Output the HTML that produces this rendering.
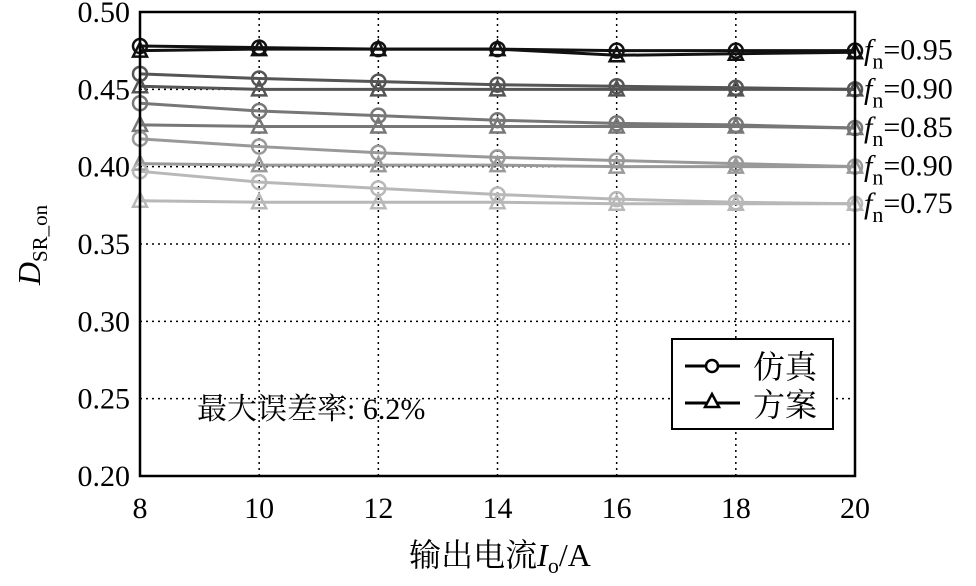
<!DOCTYPE html>
<html><head><meta charset="utf-8"><style>
html,body{margin:0;padding:0;background:#fff;}
svg text{font-family:"Liberation Serif","Noto Serif CJK SC",serif;}
</style></head><body>
<svg id="chart" width="976" height="581" viewBox="0 0 976 581" xmlns="http://www.w3.org/2000/svg"></svg>
<script>
const xCategories=[8,10,12,14,16,18,20];
const yTicks=[0.20,0.25,0.30,0.35,0.40,0.45,0.50];
const seriesLabels=["fn=0.95","fn=0.90","fn=0.85","fn=0.90","fn=0.75"];
const labelTexts=["=0.95","=0.90","=0.85","=0.90","=0.75"];
const seriesColors=["#111111","#555555","#777777","#999999","#b8b8b8"];
const simValues=[
[0.478,0.477,0.476,0.476,0.475,0.475,0.475],
[0.460,0.457,0.455,0.453,0.452,0.451,0.450],
[0.441,0.436,0.433,0.430,0.428,0.427,0.425],
[0.418,0.413,0.409,0.406,0.404,0.402,0.400],
[0.397,0.390,0.386,0.382,0.379,0.377,0.376]];
const planValues=[
[0.475,0.476,0.476,0.476,0.472,0.473,0.474],
[0.452,0.450,0.450,0.450,0.450,0.450,0.450],
[0.427,0.426,0.426,0.426,0.426,0.426,0.425],
[0.402,0.401,0.401,0.401,0.400,0.400,0.400],
[0.378,0.377,0.377,0.377,0.376,0.376,0.376]];
const L=140,R=855,T=12,B=476;
const xS=v=>L+(v-8)/(20-8)*(R-L);
const yS=v=>B-(v-0.20)/(0.50-0.20)*(B-T);
const svg=document.getElementById('chart');
const NS='http://www.w3.org/2000/svg';
function mk(tag,attrs,parent){const e=document.createElementNS(NS,tag);for(const k in attrs)e.setAttribute(k,attrs[k]);(parent||svg).appendChild(e);return e;}
xCategories.forEach((c,i)=>{if(i>0&&i<xCategories.length-1){const g=mk('line',{x1:xS(c),x2:xS(c),y1:T,y2:B,stroke:'#000','stroke-width':1.5,'stroke-dasharray':'2,4'});

}
const t=mk('text',{x:xS(c),y:B+42,'text-anchor':'middle','font-size':30});t.textContent=c;

});
yTicks.forEach((v,i)=>{if(i>0&&i<yTicks.length-1){const g=mk('line',{x1:L,x2:R,y1:yS(v),y2:yS(v),stroke:'#000','stroke-width':1.5,'stroke-dasharray':'2,4'});

}
const t=mk('text',{x:L-10,y:yS(v)+10,'text-anchor':'end','font-size':30});t.textContent=v.toFixed(2);

});
function tri(x,y,c,g){return mk('polygon',{points:`${x},${y-8} ${x-7},${y+6} ${x+7},${y+6}`,fill:'none',stroke:c,'stroke-width':2.5},g);}
simValues.forEach((arr,s)=>{
const c=seriesColors[s];
const g1=mk('g',{});


mk('polyline',{points:arr.map((v,i)=>xS(xCategories[i])+','+yS(v)).join(' '),fill:'none',stroke:c,'stroke-width':3},g1);
arr.forEach((v,i)=>{const m=mk('circle',{cx:xS(xCategories[i]),cy:yS(v),r:7,fill:'none',stroke:c,'stroke-width':2.5},g1);

});
const g2=mk('g',{});


const pv=planValues[s];
mk('polyline',{points:pv.map((v,i)=>xS(xCategories[i])+','+yS(v)).join(' '),fill:'none',stroke:c,'stroke-width':3},g2);
pv.forEach((v,i)=>{const m=tri(xS(xCategories[i]),yS(v),c,g2);

});
const ly=yS(simValues[s][6])+9;
const t=mk('text',{x:864,y:ly,'font-size':30});


const f=mk('tspan',{'font-style':'italic'},t);f.textContent='f';
const n=mk('tspan',{'font-size':22,dy:9},t);n.textContent='n';
const r=mk('tspan',{dy:-9},t);r.textContent=labelTexts[s];
});
const fr=mk('rect',{x:L,y:T,width:R-L,height:B-T,fill:'none',stroke:'#000','stroke-width':2.5});


</script>
<svg style="position:absolute;left:0;top:0" width="976" height="581">
<g>
<rect x="672" y="339" width="161" height="90" fill="#fff" stroke="#000" stroke-width="2"/>
<line x1="685" y1="366" x2="740" y2="366" stroke="#000" stroke-width="3"/>
<circle cx="712" cy="366" r="6" fill="#fff" stroke="#000" stroke-width="2.5"/>
<line x1="685" y1="403" x2="740" y2="403" stroke="#000" stroke-width="3"/>
<polygon points="712,394 705,407 719,407" fill="#fff" stroke="#000" stroke-width="2.5"/>
<text x="753" y="378" font-size="32">仿真</text>
<text x="753" y="416" font-size="32">方案</text>
</g>
<text x="197" y="419" font-size="30">最大误差率: 6.2%</text>
<text x="500" y="566" font-size="32" text-anchor="middle">输出电流<tspan font-style="italic">I</tspan><tspan font-size="22" dy="7">o</tspan><tspan dy="-7">/A</tspan></text>
<text transform="translate(40,245) rotate(-90)" font-size="32" text-anchor="middle"><tspan font-style="italic">D</tspan><tspan font-size="21" dy="7">SR_on</tspan></text>
</svg>
</body></html>
